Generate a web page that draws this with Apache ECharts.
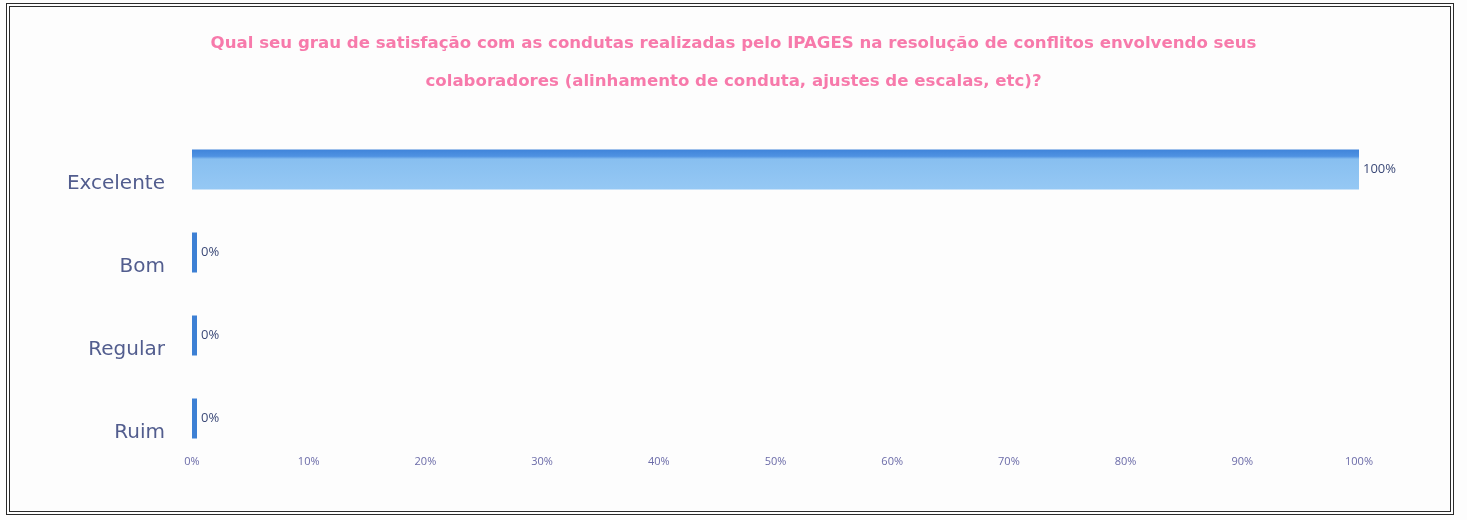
<!DOCTYPE html>
<html>
<head>
<meta charset="utf-8">
<script src="https://cdn.jsdelivr.net/npm/echarts@6/dist/echarts.min.js"></script>
<style>
  html, body { margin: 0; padding: 0; background: #fdfdfd; }
  #chart { width: 1467px; height: 520px; }
  #frame {
    position: absolute; left: 6px; top: 3px; width: 1440px; height: 504px;
    border: 4px double #2a2a2a; pointer-events: none;
  }
</style>
</head>
<body>
<div id="chart"></div>
<div id="frame"></div>
<script>
  var titleText = 'Qual seu grau de satisfação com as condutas realizadas pelo IPAGES na resolução de conflitos envolvendo seus\ncolaboradores (alinhamento de conduta, ajustes de escalas, etc)?';
  var categories = ['Excelente', 'Bom', 'Regular', 'Ruim'];
  var values = [100, 0, 0, 0];
  var axisMin = 0, axisMax = 100, axisStep = 10;

  var myChart = echarts.init(document.getElementById('chart'));

  var option = {
    backgroundColor: '#fdfdfd',
    title: {
      text: titleText,
      left: 'center',
      top: 20,
      textStyle: {
        fontFamily: 'DejaVu Sans',
        fontSize: 16.6,
        fontWeight: 'bold',
        color: '#f77aab',
        lineHeight: 38,
        align: 'center'
      }
    },
    grid: { left: 192, right: 108, top: 128, bottom: 60 },
    xAxis: {
      type: 'value',
      min: axisMin,
      max: axisMax,
      interval: axisStep,
      axisLine: { show: false },
      axisTick: { show: false },
      splitLine: { show: false },
      axisLabel: {
        margin: -4,
        formatter: '{value}%',
        fontFamily: 'Open Sans',
        fontSize: 11,
        color: '#6b6ba8'
      }
    },
    yAxis: {
      type: 'category',
      inverse: true,
      data: categories,
      axisLine: { show: false },
      axisTick: { show: false },
      axisLabel: {
        margin: 27,
        verticalAlign: 'top',
        lineHeight: 28,
        fontFamily: 'DejaVu Sans',
        fontSize: 20,
        color: '#525d8e'
      }
    },
    series: [{
      type: 'bar',
      data: values,
      barWidth: 40,
      barMinHeight: 5,
      itemStyle: {
        color: function (p) {
          if (p.value === 0) return '#3d80d4';
          return new echarts.graphic.LinearGradient(0, 0, 0, 1, [
            { offset: 0, color: '#3f84da' },
            { offset: 0.17, color: '#4f92e2' },
            { offset: 0.24, color: '#88bff0' },
            { offset: 1, color: '#95c8f4' }
          ]);
        }
      },
      label: {
        show: true,
        position: 'right',
        distance: 4,
        formatter: '{c}%',
        fontFamily: 'Open Sans',
        fontSize: 13,
        color: '#3c4a78'
      }
    }]
  };

  myChart.setOption(option);
</script>
</body>
</html>
